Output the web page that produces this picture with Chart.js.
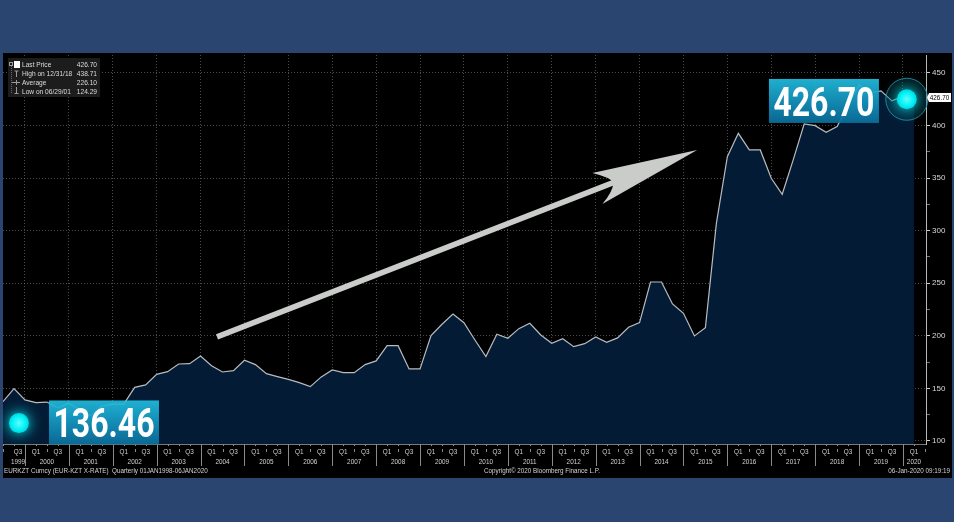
<!DOCTYPE html>
<html>
<head>
<meta charset="utf-8">
<script src="https://cdn.jsdelivr.net/npm/chart.js@4.4.1/dist/chart.umd.min.js"></script>
<style>
  html, body { margin: 0; padding: 0; background: #2b4571; overflow: hidden; }
  #wrap { position: absolute; left: 0; top: 0; width: 954px; height: 522px; }
</style>
</head>
<body>
<div id="wrap"><canvas id="myChart" width="954" height="522"></canvas></div>
<script>
// EUR/KZT, quarter-end closes, Q2 1999 .. Q1 2020 (index 0 = end of Q2 1999)
const yearLabels = ['1999', '2000', '2001', '2002', '2003', '2004', '2005', '2006', '2007', '2008', '2009',
  '2010', '2011', '2012', '2013', '2014', '2015', '2016', '2017', '2018', '2019', '2020'];
const eurKzt = [
  137.4, 149.7, 139.0,                       // 1999 Q2-Q4
  136.4, 137.0, 131.5, 136.0,                // 2000
  129.5, 124.29, 133.0, 135.0,               // 2001
  135.0, 151.0, 153.3, 163.4,                // 2002
  165.9, 173.2, 173.5, 180.8,                // 2003
  171.6, 165.6, 166.9, 176.7,                // 2004
  172.6, 164.0, 161.2, 158.6,                // 2005
  155.5, 151.7, 160.9, 167.5,                // 2006
  165.0, 165.0, 172.6, 176.1,                // 2007
  190.6, 190.6, 168.5, 168.5,                // 2008
  200.3, 211.0, 220.8, 212.5,                // 2009
  196.0, 180.2, 201.5, 197.7,                // 2010
  206.8, 211.9, 200.8, 192.9,                // 2011
  197.3, 189.7, 192.5, 198.9,                // 2012
  193.9, 198.0, 208.1, 212.5,                // 2013
  251.2, 251.2, 230.3, 221.4,                // 2014
  199.9, 207.8, 307.0, 370.4,                // 2015
  392.6, 376.8, 376.8, 349.9,                // 2016
  334.6, 367.3, 401.5, 399.9,                // 2017
  393.6, 399.0, 419.0, 438.71,               // 2018
  431.0, 433.0, 423.5, 428.0,                // 2019
  426.70                                     // 2020 Q1
];
const yTicks = [100, 125, 150, 175, 200, 225, 250, 275, 300, 325, 350, 375, 400, 425, 450];
const legendRows = [
  ['Last Price', '426.70'],
  ['High on 12/31/18', '438.71'],
  ['Average', '226.10'],
  ['Low on 06/29/01', '124.29']
];
const firstTag = '136.46';
const lastTag = '426.70';
const footerLeft = 'EURKZT Curncy (EUR-KZT X-RATE)  Quarterly 01JAN1998-06JAN2020';
const footerMid = 'Copyright\u00a9 2020 Bloomberg Finance L.P.';
const footerRight = '06-Jan-2020 09:19:19';

// annotation anchors in data units [quarter index, value]
const arrowFrom = [19.5, 198.9];
const arrowTo = [63.25, 376.8];
const startDot = [1.45, 117], startBox = [9.2, 117.6];
const endDot = [82.35, 425], endBox = [74.8, 423.4];

const yearStart = (year) => (year - 1999) * 4 - 2;   // index of the quarter end closing the previous year

function txt(ctx, s, x, y, font, color, align, sx, base) {
  ctx.save();
  ctx.font = font;
  ctx.fillStyle = color;
  ctx.textAlign = align || 'left';
  ctx.textBaseline = base || 'middle';
  ctx.translate(x, y);
  ctx.scale(sx || 1, 1);
  ctx.fillText(s, 0, 0);
  ctx.restore();
}

function glowDot(ctx, x, y, r) {
  ctx.save();
  ctx.shadowColor = '#00ffff';
  ctx.shadowBlur = 14;
  const g = ctx.createRadialGradient(x, y, 0, x, y, r);
  g.addColorStop(0, '#5ffcff');
  g.addColorStop(0.7, '#00f2f4');
  g.addColorStop(1, '#00d4e4');
  ctx.fillStyle = g;
  ctx.beginPath();
  ctx.arc(x, y, r, 0, Math.PI * 2);
  ctx.fill();
  ctx.restore();
}

function tagBox(ctx, cx, cy, text) {
  const w = 110, h = 44;
  const x = cx - w / 2, y = cy - h / 2;
  const g = ctx.createLinearGradient(0, y, 0, y + h);
  g.addColorStop(0, '#22bee0');
  g.addColorStop(0.5, '#1596c0');
  g.addColorStop(1, '#0a6f9c');
  ctx.save();
  ctx.globalAlpha = 0.92;
  ctx.fillStyle = g;
  ctx.fillRect(x, y, w, h);
  ctx.restore();
  txt(ctx, text, cx, cy + 15, 'bold 40px Roboto', '#ffffff', 'center', 0.8, 'alphabetic');
}

function drawArrow(ctx, x1, y1, x2, y2) {
  const len = Math.hypot(x2 - x1, y2 - y1);
  ctx.save();
  ctx.translate(x2, y2);
  ctx.rotate(Math.atan2(y2 - y1, x2 - x1));
  ctx.fillStyle = '#c9ccc9';
  ctx.beginPath();
  ctx.moveTo(-len, -2.8);
  ctx.lineTo(-88, -2.8);
  ctx.lineTo(-88, 2.8);
  ctx.lineTo(-len, 2.8);
  ctx.closePath();
  ctx.fill();
  ctx.beginPath();
  ctx.moveTo(0, 0);
  ctx.lineTo(-106, -16.5);
  ctx.quadraticCurveTo(-91, -6, -90, 0);
  ctx.quadraticCurveTo(-93, 8, -108, 16);
  ctx.closePath();
  ctx.fill();
  ctx.restore();
}

const backdrop = {
  id: 'backdrop',
  beforeDraw(chart) {
    const ctx = chart.ctx;
    ctx.save();
    ctx.fillStyle = '#2b4571';
    ctx.fillRect(0, 0, chart.width, chart.height);
    ctx.fillStyle = '#000000';
    ctx.fillRect(3, 53, 949, 425);
    ctx.restore();
  }
};

const overlay = {
  id: 'overlay',
  afterDraw(chart) {
    const ctx = chart.ctx;
    const xs = chart.scales.x, ys = chart.scales.y;
    const ca = chart.chartArea;
    const px = (k) => xs.getPixelForValue(k);
    const py = (v) => ys.getPixelForValue(v);
    const lblColor = '#d2d2d2';
    const small = '7.5px "Liberation Sans"';

    // quarter ticks on the time axis
    ctx.save();
    ctx.strokeStyle = '#8a8a8a';
    ctx.lineWidth = 1;
    for (let k = 0; k < eurKzt.length; k++) {
      const x = Math.round(px(k)) + 0.5;
      ctx.beginPath();
      ctx.moveTo(x, ca.bottom);
      ctx.lineTo(x, ca.bottom + 2);
      ctx.stroke();
    }
    ctx.restore();

    // quarter and year labels
    yearLabels.forEach((label) => {
      const year = Number(label);
      const base = yearStart(year);
      const q1 = base + 1, q3 = base + 3, mid = base + 2;
      const inRange = (k) => k >= 0 && k <= xs.max;
      ctx.save();
      ctx.strokeStyle = '#8a8a8a';
      ctx.lineWidth = 1;
      if (base >= 0) {
        const x = Math.round(px(base)) + 0.5;
        ctx.beginPath();
        ctx.moveTo(x, ca.bottom + 2);
        ctx.lineTo(x, ca.bottom + 22);
        ctx.stroke();
      }
      if (inRange(mid)) {
        const x = Math.round(px(mid)) + 0.5;
        ctx.beginPath();
        ctx.moveTo(x, ca.bottom + 5);
        ctx.lineTo(x, ca.bottom + 8);
        ctx.stroke();
      }
      ctx.restore();
      let yx;
      if (inRange(q1)) txt(ctx, 'Q1', px(q1), ca.bottom + 8, small, lblColor, 'center', 0.85);
      if (inRange(q3)) txt(ctx, 'Q3', Math.max(px(q3), ca.left + 15), ca.bottom + 8, small, lblColor, 'center', 0.85);
      if (inRange(q1) && inRange(q3)) yx = px(mid);
      else if (inRange(q1)) yx = px(q1);
      else yx = Math.max(px(q3), ca.left + 15);
      txt(ctx, label, yx, ca.bottom + 18, small, lblColor, 'center', 0.85);
    });

    // footer
    txt(ctx, footerLeft, 4, 471.5, '7px "Liberation Sans"', lblColor, 'left', 0.9);
    txt(ctx, footerMid, 484, 471.5, '7px "Liberation Sans"', lblColor, 'left', 0.9);
    txt(ctx, footerRight, 950, 471.5, '7px "Liberation Sans"', lblColor, 'right', 0.9);

    // legend box
    ctx.save();
    ctx.fillStyle = '#1c1c1c';
    ctx.fillRect(8, 58, 92, 39);
    ctx.strokeStyle = '#6a6a6a';
    ctx.lineWidth = 1;
    ctx.setLineDash([1, 1]);
    ctx.beginPath();
    ctx.moveTo(11.5, 66);
    ctx.lineTo(11.5, 93);
    ctx.stroke();
    ctx.setLineDash([]);
    ctx.strokeStyle = '#9a9a9a';
    ctx.strokeRect(9.5, 62.5, 3, 3);
    ctx.fillStyle = '#ffffff';
    ctx.fillRect(14, 61, 6, 7);
    ctx.beginPath();
    ctx.moveTo(14.5, 71); ctx.lineTo(18.5, 71); ctx.moveTo(16.5, 71); ctx.lineTo(16.5, 77);
    ctx.moveTo(12, 82.5); ctx.lineTo(20, 82.5); ctx.moveTo(16.5, 80); ctx.lineTo(16.5, 85);
    ctx.moveTo(16.5, 87); ctx.lineTo(16.5, 93); ctx.moveTo(14.5, 93.5); ctx.lineTo(18.5, 93.5);
    ctx.stroke();
    ctx.restore();
    legendRows.forEach((row, i) => {
      const y = 64.5 + i * 9;
      txt(ctx, row[0], 22, y, '7.5px "Liberation Sans"', '#dcdcdc', 'left', 0.88);
      txt(ctx, row[1], 97, y, '7.5px "Liberation Sans"', '#dcdcdc', 'right', 0.88);
    });

    // arrow
    drawArrow(ctx, px(arrowFrom[0]), py(arrowFrom[1]), px(arrowTo[0]), py(arrowTo[1]));

    // first value marker
    glowDot(ctx, px(startDot[0]), py(startDot[1]), 10);
    tagBox(ctx, px(startBox[0]), py(startBox[1]), firstTag);

    // last value marker
    const ex = px(endDot[0]), ey = py(endDot[1]);
    ctx.save();
    ctx.fillStyle = 'rgba(10, 70, 90, 0.35)';
    ctx.strokeStyle = 'rgba(40, 150, 175, 0.8)';
    ctx.lineWidth = 1;
    ctx.beginPath();
    ctx.arc(ex, ey, 21, 0, Math.PI * 2);
    ctx.fill();
    ctx.stroke();
    ctx.restore();
    glowDot(ctx, ex, ey, 10);
    tagBox(ctx, px(endBox[0]), py(endBox[1]), lastTag);

    // last price tag on the value axis
    const ty = py(eurKzt[eurKzt.length - 1]);
    ctx.save();
    ctx.fillStyle = '#ffffff';
    ctx.beginPath();
    ctx.moveTo(ca.right + 1, ty);
    ctx.lineTo(ca.right + 3, ty - 4.5);
    ctx.lineTo(951, ty - 4.5);
    ctx.lineTo(951, ty + 4.5);
    ctx.lineTo(ca.right + 3, ty + 4.5);
    ctx.closePath();
    ctx.fill();
    ctx.restore();
    txt(ctx, lastTag, 939.5, ty + 0.5, '7px "Liberation Sans"', '#000000', 'center', 0.9);
  }
};

const gridColor = 'rgba(150, 150, 150, 0.5)';

new Chart(document.getElementById('myChart').getContext('2d'), {
  type: 'line',
  data: {
    datasets: [{
      label: 'EURKZT',
      data: eurKzt.map((v, i) => ({ x: i, y: v })),
      borderColor: '#b8bcc0',
      borderWidth: 1.2,
      backgroundColor: '#031b35',
      fill: 'start',
      pointRadius: 0,
      tension: 0
    }]
  },
  options: {
    responsive: false,
    devicePixelRatio: 1,
    animation: false,
    layout: { padding: { left: 3, top: 55, right: 0, bottom: 0 } },
    plugins: { legend: { display: false }, tooltip: { enabled: false } },
    scales: {
      x: {
        type: 'linear',
        min: 0,
        max: 84.1,
        z: 1,
        afterBuildTicks: (s) => {
          s.ticks = yearLabels.map((y) => yearStart(Number(y))).filter((k) => k > 0 && k < 84).map((k) => ({ value: k }));
        },
        afterFit: (s) => { s.height = 78; },
        ticks: { display: false },
        grid: { color: gridColor, lineWidth: 1, drawTicks: false },
        border: { display: true, color: '#7a7a7a', width: 1, dash: [1, 2] }
      },
      y: {
        type: 'linear',
        position: 'right',
        min: 97.1,
        max: 467.1,
        z: 1,
        afterBuildTicks: (s) => { s.ticks = yTicks.map((v) => ({ value: v })); },
        afterFit: (s) => { s.width = 28; },
        ticks: {
          autoSkip: false,
          padding: 2,
          color: '#d8d8d8',
          font: { family: 'Liberation Sans', size: 8 },
          callback: (v) => (v % 50 === 0 ? String(v) : '')
        },
        grid: {
          color: (c) => (c.tick && c.tick.value % 50 === 0 ? gridColor : 'rgba(0,0,0,0)'),
          tickColor: (c) => (c.tick && c.tick.value % 50 === 0 ? '#cfcfcf' : '#777777'),
          tickLength: 4,
          lineWidth: 1
        },
        border: { display: true, color: '#b8b8b8', width: 1, dash: [1, 2] }
      }
    }
  },
  plugins: [backdrop, overlay]
});
</script>
</body>
</html>
